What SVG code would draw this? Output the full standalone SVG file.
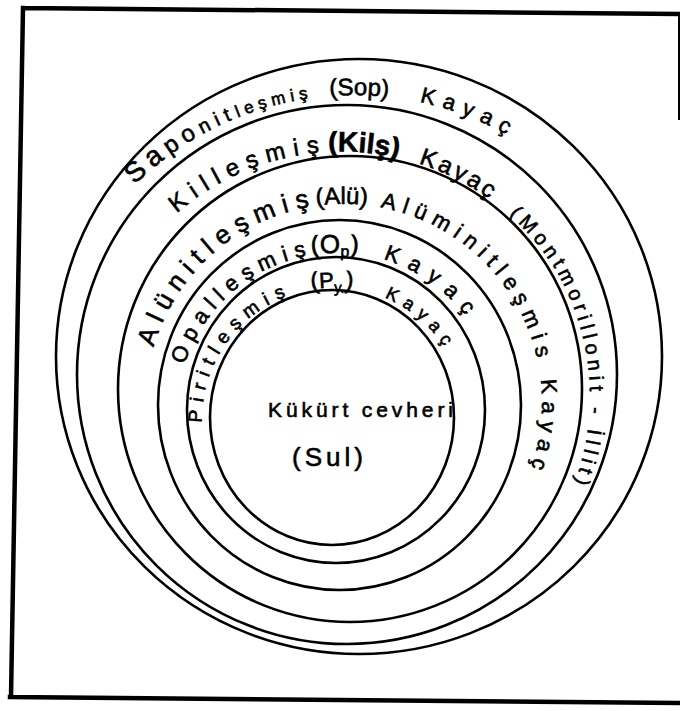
<svg xmlns="http://www.w3.org/2000/svg" width="680" height="711" viewBox="0 0 680 711">
<style>
.c{fill:none;stroke:#000;stroke-width:2.6}
.f{fill:none;stroke:#000;stroke-width:4.5;stroke-linecap:square}
.t{font-family:"Liberation Sans","DejaVu Sans",sans-serif;fill:#000;stroke:#000;stroke-width:0.6}
</style>
<defs>
<path id="pSop" d="M82.9,564.5 A313,313 0 0 1 625.1,251.5 A313,313 0 0 1 82.9,564.5"/>
<path id="pKil" d="M121.8,526 A252,252 0 0 1 558.2,274 A252,252 0 0 1 121.8,526"/>
<path id="pAlu" d="M172.5,501 A198,198 0 0 1 515.5,303 A198,198 0 0 1 172.5,501"/>
<path id="pOp" d="M196.9,491.8 A161,161 0 0 1 475.7,330.8 A161,161 0 0 1 196.9,491.8"/>
<path id="pPy" d="M218.7,484 A132,132 0 0 1 447.3,352 A132,132 0 0 1 218.7,484"/>
</defs>
<rect width="680" height="711" fill="#fff"/>
<g id="frame">
<path class="f" d="M23,8 L680,14 M23,8 L11,697 M10,697 L680,703"/>
<path d="M679,14 L679,120" fill="none" stroke="#000" stroke-width="2"/>
</g>
<g id="sop">
<ellipse class="c" cx="359" cy="356.5" rx="303" ry="297.5"/>
<text class="t"><textPath href="#pSop" startOffset="412"><tspan font-size="28" letter-spacing="6">Sa</tspan><tspan font-size="24" letter-spacing="6">po</tspan><tspan font-size="20" letter-spacing="6">nit</tspan><tspan font-size="17" letter-spacing="5">leşmiş</tspan></textPath></text>
<text class="t" font-size="24"><textPath href="#pSop" startOffset="631">(Sop)</textPath></text>
<text class="t" font-size="22" letter-spacing="8"><textPath href="#pSop" startOffset="721">Kayaç</textPath></text>
</g>
<g id="kils">
<ellipse class="c" cx="347" cy="374.5" rx="270" ry="269.5"/>
<text class="t" font-size="24" letter-spacing="7.9"><textPath href="#pKil" startOffset="343">Killeşmiş</textPath></text>
<text class="t" font-size="28" font-weight="bold"><textPath href="#pKil" startOffset="510">(Kilş)</textPath></text>
<text class="t" font-size="24" letter-spacing="3.2"><textPath href="#pKil" startOffset="601">Kayaç</textPath></text>
<text class="t" font-size="20" letter-spacing="4.9"><textPath href="#pKil" startOffset="706">(Montmorillonit - İllit)</textPath></text>
</g>
<g id="alu">
<ellipse class="c" cx="350" cy="389" rx="232" ry="233"/>
<text class="t" font-size="26" letter-spacing="7.5"><textPath href="#pAlu" startOffset="159">Alünitleşmiş</textPath></text>
<text class="t" font-size="24"><textPath href="#pAlu" startOffset="387">(Alü)</textPath></text>
<text class="t" font-size="22" letter-spacing="6.9"><textPath href="#pAlu" startOffset="451">Alüminitleşmis</textPath></text>
<text class="t" font-size="22" letter-spacing="7"><textPath href="#pAlu" startOffset="703">Kayaç</textPath></text>
</g>
<g id="op">
<ellipse class="c" cx="339.5" cy="405" rx="181.5" ry="185"/>
<text class="t" font-size="22" letter-spacing="7"><textPath href="#pOp" startOffset="131">Opalleşmiş</textPath></text>
<text class="t" font-size="26"><textPath href="#pOp" startOffset="308">(O<tspan font-size="16" dy="4">p</tspan><tspan dy="-4">)</tspan></textPath></text>
<text class="t" font-size="22" letter-spacing="10"><textPath href="#pOp" startOffset="380">Kayaç</textPath></text>
</g>
<g id="py">
<ellipse class="c" cx="336" cy="410" rx="149" ry="153"/>
<text class="t" font-size="19" letter-spacing="7.5"><textPath href="#pPy" startOffset="64">Piritleşmiş</textPath></text>
<text class="t" font-size="24"><textPath href="#pPy" startOffset="252">(<tspan font-size="22">P</tspan><tspan font-size="15" dy="5">y.</tspan><tspan dy="-5">)</tspan></textPath></text>
<text class="t" font-size="18" letter-spacing="7"><textPath href="#pPy" startOffset="326">Kayaç</textPath></text>
</g>
<g id="sul">
<ellipse class="c" cx="332" cy="417.5" rx="122" ry="127.5"/>
<text class="t" x="268" y="417" font-size="21" textLength="185" lengthAdjust="spacing">Kükürt cevheri</text>
<text class="t" x="292" y="466" font-size="26" textLength="71" lengthAdjust="spacing">(Sul)</text>
</g>
</svg>
